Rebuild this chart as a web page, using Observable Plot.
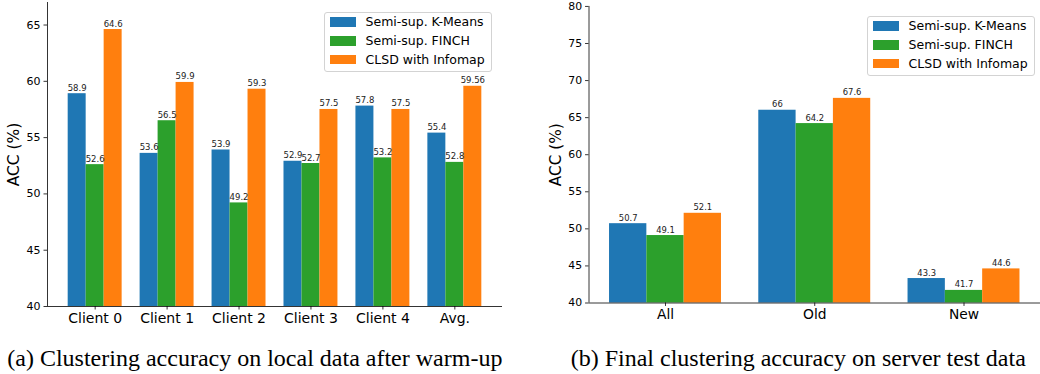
<!DOCTYPE html>
<html><head><meta charset="utf-8">
<script src="https://cdn.jsdelivr.net/npm/d3@7"></script>
<script src="https://cdn.jsdelivr.net/npm/@observablehq/plot@0.6"></script>
<style>
html,body{margin:0;padding:0;background:#fff;overflow:hidden;width:1040px;height:374px;}
#wrap{position:relative;width:1040px;height:374px;overflow:hidden;}
.panel{position:absolute;top:0;}
.legend{position:absolute;background:#fff;border:1px solid #d3d3d3;border-radius:3px;box-sizing:border-box;font-family:"DejaVu Sans";font-size:12.5px;color:#000;}
.legend .sw{position:absolute;width:26px;height:9.3px;}
.legend .lb{position:absolute;line-height:14px;white-space:nowrap;transform:translateY(-50%);}
.caption{position:absolute;font-family:"Liberation Serif";font-size:24px;line-height:24px;white-space:nowrap;color:#000;}
</style>
</head><body><div id="wrap"></div>
<script>
// ---- data ----
const series = ["Semi-sup. K-Means", "Semi-sup. FINCH", "CLSD with Infomap"];
const seriesColors = ["#1f77b4", "#2ca02c", "#ff7f0e"];

const localCategories = ["Client 0", "Client 1", "Client 2", "Client 3", "Client 4", "Avg."];
const localKMeans = [58.9, 53.6, 53.9, 52.9, 57.8, 55.4];
const localFINCH  = [52.6, 56.5, 49.2, 52.7, 53.2, 52.8];
const localCLSD   = [64.6, 59.9, 59.3, 57.5, 57.5, 59.56];
const localTicks  = [40, 45, 50, 55, 60, 65];

const serverCategories = ["All", "Old", "New"];
const serverKMeans = [50.7, 66, 43.3];
const serverFINCH  = [49.1, 64.2, 41.7];
const serverCLSD   = [52.1, 67.6, 44.6];
const serverTicks  = [40, 45, 50, 55, 60, 65, 70, 75, 80];

const yLabel = "ACC (%)";
const captionA = "(a) Clustering accuracy on local data after warm-up";
const captionB = "(b) Final clustering accuracy on server test data";

// ---- drawing ----
const barW = 0.25;
const wrap = document.getElementById("wrap");

function makeRows(cats, arrays) {
  const rows = [];
  cats.forEach((c, i) => arrays.forEach((arr, j) => rows.push({cat: c, i, j, series: series[j], value: arr[i]})));
  return rows;
}

function panel({cats, arrays, ticks, yDomain, left, width, marginLeft, marginRight, marginTop, legendPos}) {
  const rows = makeRows(cats, arrays);
  const n = cats.length;
  const extent = [-(barW * 1.5), (n - 1) + barW * 1.5];
  const m = (extent[1] - extent[0]) * 0.05;
  const xDomain = [extent[0] - m, extent[1] + m];
  const cx = d => d.i + (d.j - 1) * barW;
  const chart = Plot.plot({
    width, height: 330,
    marginLeft, marginRight, marginTop, marginBottom: 24,
    style: {fontFamily: "DejaVu Sans", color: "black", background: "transparent", overflow: "visible"},
    x: {domain: xDomain, axis: null},
    y: {domain: yDomain, axis: null},
    color: {domain: series, range: seriesColors},
    marks: [
      Plot.rectY(rows, {x1: d => cx(d) - barW / 2, x2: d => cx(d) + barW / 2, y1: () => yDomain[0], y2: "value", fill: "series"}),
      Plot.text(rows, {x: cx, y: "value", text: d => String(d.value), dy: -3, lineAnchor: "bottom", fontSize: 8.5, fill: "#222"}),
      Plot.axisY({ticks, tickSize: 3.5, tickPadding: 3.5, fontSize: 11, label: null, strokeWidth: 0.8}),
      Plot.axisX({ticks: d3.range(n), tickFormat: i => cats[i], tickSize: 3.5, tickPadding: 3, fontSize: 14, label: null, strokeWidth: 0.8}),
      Plot.ruleX([xDomain[0]], {y1: yDomain[0], y2: yDomain[1], strokeWidth: 0.8}),
      Plot.ruleY([yDomain[0]], {x1: xDomain[0], x2: xDomain[1], strokeWidth: 0.8}),
      Plot.text([yLabel], {frameAnchor: "left", rotate: -90, dx: -33, fontSize: 15.5, textAnchor: "middle", lineAnchor: "middle"})
    ]
  });
  const div = document.createElement("div");
  div.className = "panel";
  div.style.left = left + "px";
  div.appendChild(chart);
  wrap.appendChild(div);

  const lg = document.createElement("div");
  lg.className = "legend";
  lg.style.left = legendPos.x + "px"; lg.style.top = legendPos.y + "px";
  lg.style.width = legendPos.w + "px"; lg.style.height = legendPos.h + "px";
  series.forEach((s, k) => {
    const yc = 9.6 + k * 18.8;
    const sw = document.createElement("div");
    sw.className = "sw"; sw.style.background = seriesColors[k];
    sw.style.left = "5px"; sw.style.top = (yc - 4.65) + "px";
    const lb = document.createElement("div");
    lb.className = "lb"; lb.textContent = s;
    lb.style.left = "41px"; lb.style.top = yc + "px";
    lg.appendChild(sw); lg.appendChild(lb);
  });
  wrap.appendChild(lg);
}

panel({cats: localCategories, arrays: [localKMeans, localFINCH, localCLSD], ticks: localTicks,
  yDomain: [40, 67], left: 0, width: 520, marginLeft: 47, marginRight: 18, marginTop: 2,
  legendPos: {x: 323.5, y: 11.5, w: 168, h: 60}});
panel({cats: serverCategories, arrays: [serverKMeans, serverFINCH, serverCLSD], ticks: serverTicks,
  yDomain: [40, 80], left: 520, width: 526, marginLeft: 69.3, marginRight: 0, marginTop: 6,
  legendPos: {x: 866.5, y: 15.5, w: 168, h: 60}});

function caption(text, left) {
  const c = document.createElement("div");
  c.className = "caption"; c.textContent = text;
  c.style.left = left + "px"; c.style.top = "345.5px";
  wrap.appendChild(c);
}
caption(captionA, 7.3);
caption(captionB, 570.7);
</script>
</body></html>
